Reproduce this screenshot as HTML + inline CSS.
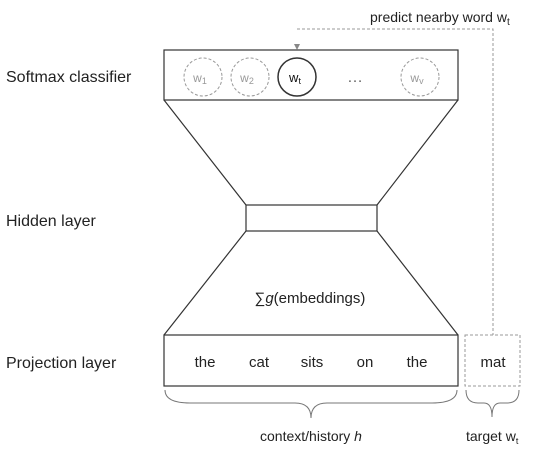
<!DOCTYPE html>
<html><head><meta charset="utf-8"><style>
body{margin:0;background:#fff;}
svg{display:block;font-family:"Liberation Sans",Arial,sans-serif;}
</style></head><body>
<svg width="543" height="457" viewBox="0 0 543 457">
<g fill="#222" font-size="16">
<text x="6" y="82">Softmax classifier</text>
<text x="6" y="226">Hidden layer</text>
<text x="6" y="368">Projection layer</text>
</g>
<g fill="none" stroke="#333" stroke-width="1.2">
<rect x="164" y="50" width="294" height="50"/>
<rect x="246" y="205" width="131" height="26"/>
<rect x="164" y="335" width="294" height="51"/>
<path d="M164 100 L246 205 M458 100 L377 205 M246 231 L164 335 M377 231 L458 335"/>
<circle cx="297" cy="77" r="19" stroke-width="1.5"/>
</g>
<g fill="none" stroke="#999" stroke-width="1" stroke-dasharray="3,2">
<circle cx="203" cy="77" r="19"/>
<circle cx="250" cy="77" r="19"/>
<circle cx="420" cy="77" r="19"/>
<rect x="465" y="335" width="55" height="51"/>
<path d="M297 29 L493 29 L493 335"/>
</g>
<path d="M294 44 L300 44 L297 50 Z" fill="#888"/>
<g fill="#999" font-size="12" text-anchor="middle">
<text x="200" y="82">w<tspan font-size="9" dy="2">1</tspan></text>
<text x="247" y="82">w<tspan font-size="9" dy="2">2</tspan></text>
<text x="417" y="82">w<tspan font-size="9" dy="2">v</tspan></text>
<text x="355" y="82" font-size="16" fill="#666">…</text>
</g>
<text x="295" y="82" font-size="13" fill="#111" text-anchor="middle">w<tspan font-size="9" dy="2">t</tspan></text>
<text x="370" y="22" font-size="14" fill="#222">predict nearby word w<tspan font-size="10" dy="3">t</tspan></text>
<text x="310" y="303" font-size="15" fill="#222" text-anchor="middle">∑<tspan font-style="italic">g</tspan>(embeddings)</text>
<g font-size="15" fill="#222" text-anchor="middle">
<text x="205" y="367">the</text>
<text x="259" y="367">cat</text>
<text x="312" y="367">sits</text>
<text x="365" y="367">on</text>
<text x="417" y="367">the</text>
<text x="493" y="367">mat</text>
</g>
<g fill="none" stroke="#777" stroke-width="1">
<path d="M165 390 Q165 403 190 403 L295 403 Q311 403 311 418 Q311 403 327 403 L432 403 Q457 403 457 390"/>
<path d="M466 390 Q466 403 478 403 L484 403 Q492 403 492 417 Q492 403 500 403 L507 403 Q519 403 519 390"/>
</g>
<text x="311" y="441" font-size="14" fill="#222" text-anchor="middle">context/history <tspan font-style="italic">h</tspan></text>
<text x="466" y="441" font-size="14" fill="#222">target w<tspan font-size="9" dy="3">t</tspan></text>
</svg>
</body></html>
